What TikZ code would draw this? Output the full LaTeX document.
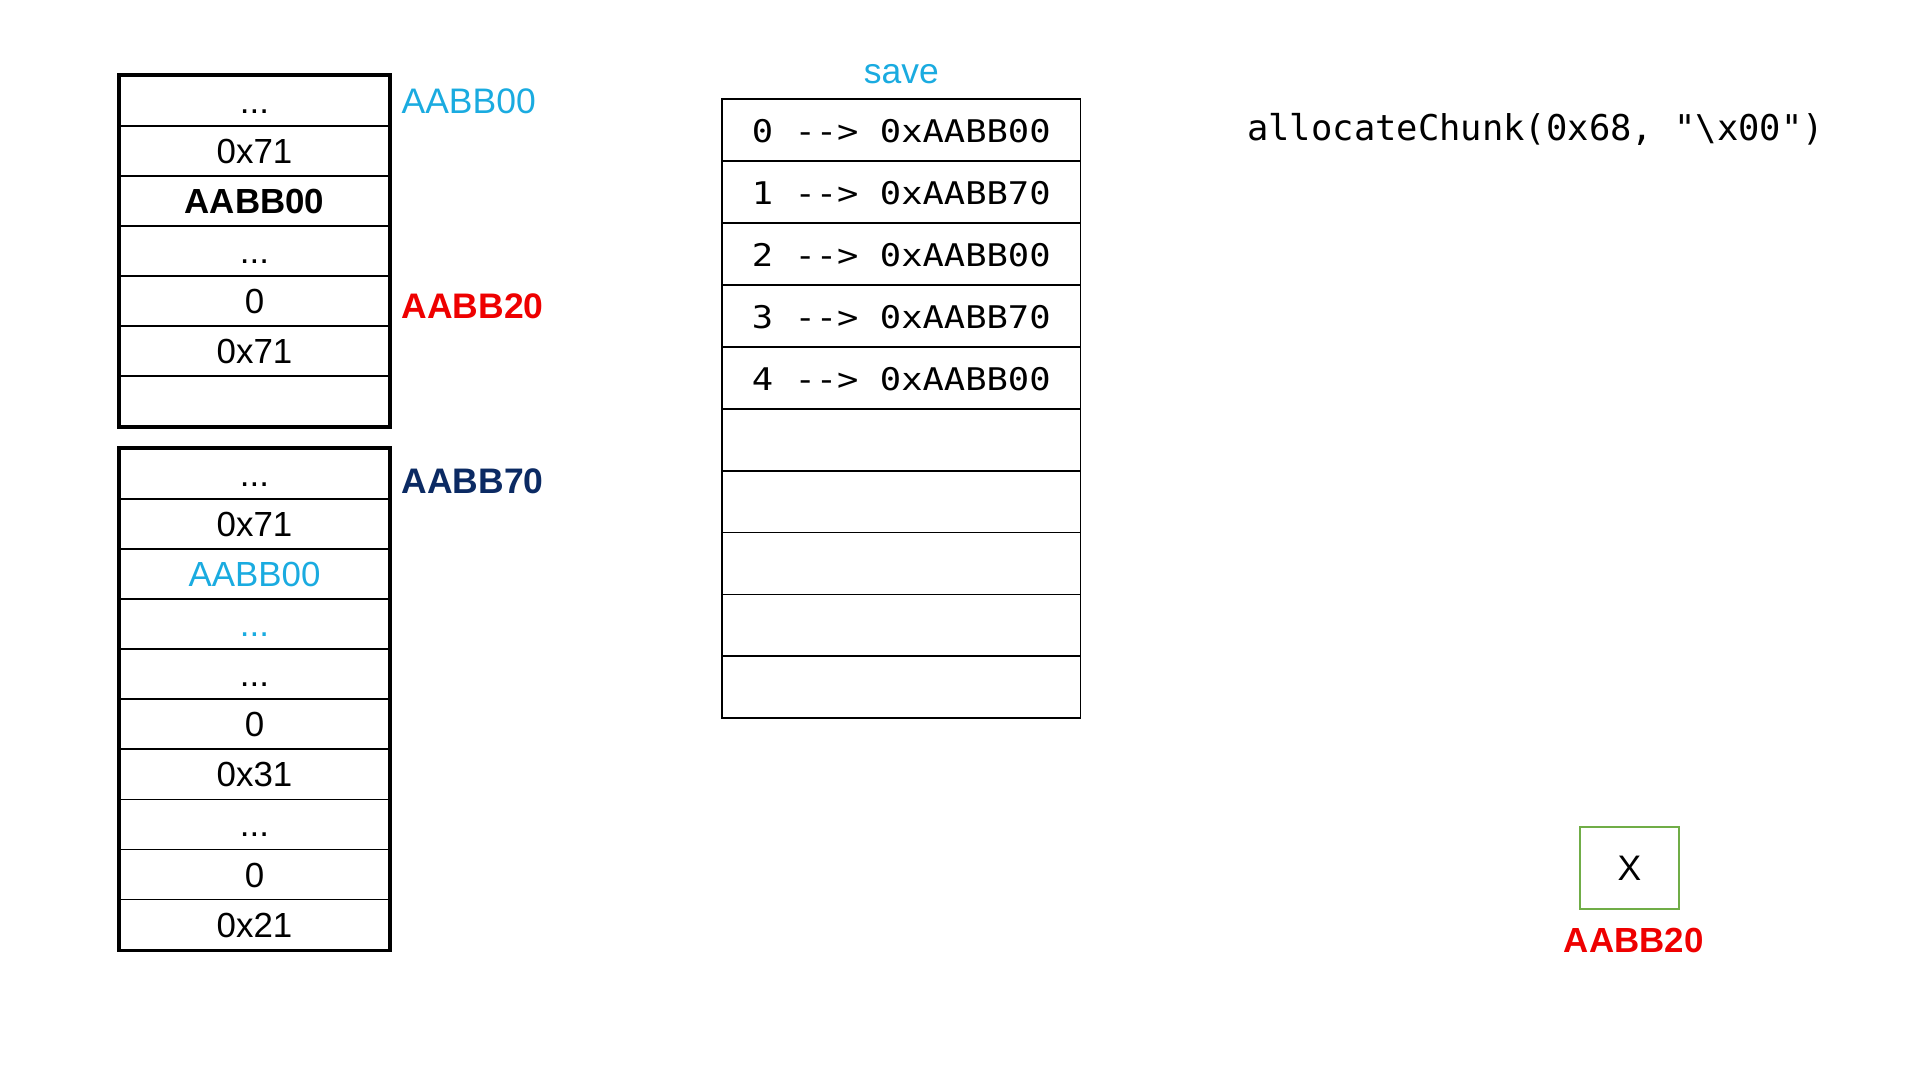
\documentclass[tikz,border=0pt]{standalone}
\usepackage{graphicx}
\usepackage{fontspec}
\setmainfont{Liberation Sans}
\setmonofont{DejaVu Sans Mono}
\definecolor{cyanlbl}{HTML}{1AABE0}
\definecolor{redlbl}{HTML}{EE0000}
\definecolor{navylbl}{HTML}{0B2A63}
\definecolor{greenbox}{HTML}{70AD47}
\newcommand\mydots{...}
\newcommand\wide[1]{\scalebox{1.136}[1]{#1}}
\tikzset{
  cell/.style={draw=black, line width=1.5pt, minimum width=220pt, minimum height=40.9pt,
    inner sep=0pt, font=\fontsize{28.5}{34}\selectfont, text height=20.4pt, text depth=0pt},
  tcell/.style={draw=black, line width=1.5pt, minimum width=293pt, minimum height=50.6pt,
    inner sep=0pt, font=\ttfamily\fontsize{25.5}{30}\selectfont, text height=20.6pt, text depth=0pt},
  lbl/.style={anchor=base west, inner sep=0pt, font=\fontsize{29}{34}\selectfont},
  outer/.style={draw=black, line width=3pt},
}
\begin{document}
\begin{tikzpicture}[x=1pt,y=-1pt]
\useasboundingbox (0,0) rectangle (1569,882.6);
% ---- box 1 ----
\foreach \t [count=\i from 0] in {\mydots,0x71,{\bfseries AABB00},\mydots,0,0x71,{}} {
  \node[cell] (b1c\i) at (208,{62+40.86*(\i+0.5)}) {\t};
}
\draw[outer] (b1c0.north west) rectangle (b1c6.south east);
% ---- box 2 ----
\foreach \t [count=\i from 0] in {\mydots,0x71,{\color{cyanlbl}AABB00},{\color{cyanlbl}\mydots},\mydots,0,0x31,\mydots,0,0x21} {
  \node[cell] (b2c\i) at (208,{367+40.9*(\i+0.5)}) {\t};
}
\draw[outer] (b2c0.north west) rectangle (b2c9.south east);
% ---- labels ----
\node[lbl, text=cyanlbl] (l00) at (328,92.5) {AABB00};
\node[lbl, text=redlbl, font=\bfseries\fontsize{29}{34}\selectfont] (l20) at (328,260) {AABB20};
\node[lbl, text=navylbl, font=\bfseries\fontsize{29}{34}\selectfont] (l70) at (328,403) {AABB70};
% ---- save table ----
\node[anchor=base, inner sep=0pt, text=cyanlbl, font=\fontsize{29}{34}\selectfont] (save) at (736.5,68) {save};
\foreach \t [count=\i from 0] in {{\wide{0 -{}-> 0xAABB00}},{\wide{1 -{}-> 0xAABB70}},{\wide{2 -{}-> 0xAABB00}},{\wide{3 -{}-> 0xAABB70}},{\wide{4 -{}-> 0xAABB00}},{},{},{},{},{}} {
  \node[tcell] (t\i) at (736.5,{81+50.6*(\i+0.5)}) {\t};
}
% ---- code ----
\node[anchor=base west, inner sep=0pt, font=\ttfamily\fontsize{29}{34}\selectfont] (code) at (1019,115.2) {allocateChunk(0x68, "\textbackslash x00")};
% ---- X box ----
\node[draw=greenbox, line width=2pt, minimum width=81pt, minimum height=67pt, inner sep=0pt,
  font=\fontsize{29}{34}\selectfont] (xbox) at (1331.5,709.5) {X};
\node[anchor=base, inner sep=0pt, text=redlbl, font=\bfseries\fontsize{28.5}{34}\selectfont] (xl) at (1335,778) {AABB20};
\end{tikzpicture}
\end{document}
